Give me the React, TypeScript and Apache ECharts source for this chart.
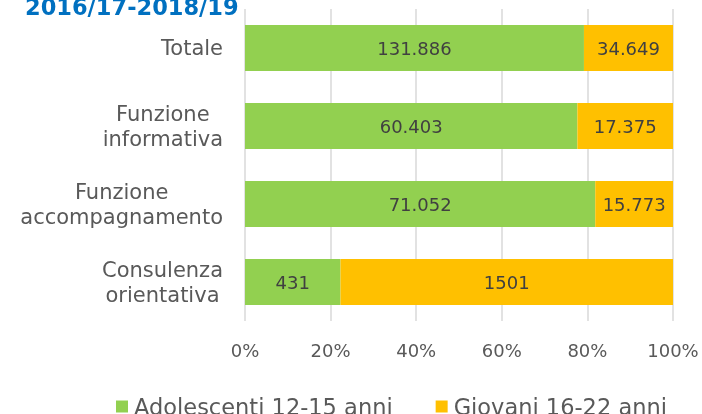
import React, { useEffect, useRef } from "react";
import * as echarts from "echarts";

const categories = [
  "Consulenza\norientativa",
  "Funzione\naccompagnamento",
  "Funzione\ninformativa",
  "Totale",
];
const adolescenti = [431, 71052, 60403, 131886];
const giovani = [1501, 15773, 17375, 34649];
const xTicks = [0, 20, 40, 60, 80, 100];
const seriesNames = ["Adolescenti 12-15 anni", "Giovani 16-22 anni"];
const titleText = "2016/17-2018/19";

const fmt = (v: number) =>
  v >= 10000 ? v.toLocaleString("de-DE") : String(v);

export default function App() {
  const ref = useRef<HTMLDivElement>(null);
  useEffect(() => {
    if (!ref.current) return;
    const chart = echarts.init(ref.current, null, { renderer: "svg" });
    const totals = adolescenti.map((a, i) => a + giovani[i]);
    const font = "'DejaVu Sans', sans-serif";
    const mk = (vals: number[], name: string, color: string) => ({
      type: "bar",
      name,
      stack: "s",
      barWidth: "59%",
      itemStyle: { color },
      label: {
        show: true,
        position: "inside",
        color: "#404040",
        fontSize: 18,
        fontFamily: font,
        formatter: (p: any) => fmt(vals[p.dataIndex]),
      },
      data: vals.map((v, i) => (v / totals[i]) * 100),
    });
    chart.setOption({
      animation: false,
      textStyle: { fontFamily: font },
      graphic: [
        {
          type: "text",
          x: 25,
          y: 6.5,
          style: {
            text: titleText,
            font: `bold 22.5px ${font}`,
            fill: "#0070C0",
            verticalAlign: "middle",
          },
        },
      ],
      grid: { left: 245, right: 29, top: 9, bottom: 93 },
      xAxis: {
        type: "value",
        min: 0,
        max: 100,
        interval: 20,
        axisLabel: {
          formatter: (v: number) => (xTicks.includes(v) ? v + "%" : ""),
          color: "#595959",
          fontSize: 18,
          margin: 20,
          fontFamily: font,
        },
        splitLine: { lineStyle: { color: "#d9d9d9", width: 1.5 } },
        axisLine: { show: false },
        axisTick: { show: false },
      },
      yAxis: {
        type: "category",
        data: categories,
        axisLine: { show: false },
        axisTick: { show: false },
        axisLabel: {
          margin: 22,
          align: "right",
          color: "#595959",
          fontSize: 21,
          lineHeight: 25,
          fontFamily: font,
          formatter: (v: string) =>
            v
              .split("\n")
              .map((s) => `{c|${s}}`)
              .join("\n"),
          rich: {
            c: {
              align: "center",
              color: "#595959",
              fontSize: 21,
              lineHeight: 25,
              fontFamily: font,
            },
          },
        },
      },
      legend: {
        top: 390,
        left: 111,
        itemWidth: 12,
        itemHeight: 12,
        itemGap: 43,
        icon: "rect",
        textStyle: { color: "#595959", fontSize: 22.5, fontFamily: font, padding: [0, 0, 0, 1] },
        data: seriesNames,
      },
      series: [
        mk(adolescenti, seriesNames[0], "#92D050"),
        mk(giovani, seriesNames[1], "#FFC000"),
      ],
    });
    return () => chart.dispose();
  }, []);
  return (
    <div
      ref={ref}
      style={{ position: "fixed", left: 0, top: 0, width: 702, height: 414 }}
    />
  );
}
